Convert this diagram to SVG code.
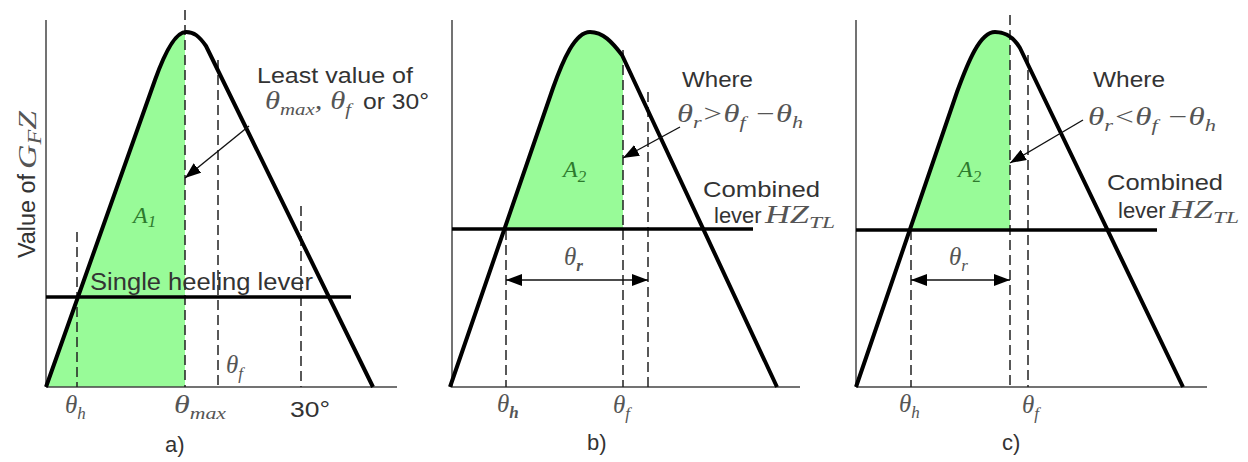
<svg xmlns="http://www.w3.org/2000/svg" width="1248" height="462" viewBox="0 0 1248 462">
<style>
.axis{stroke:#444;stroke-width:1.5;fill:none}
.curve{stroke:#000;stroke-width:4;fill:none;stroke-linejoin:round}
.lever{stroke:#000;stroke-width:3.5}
.dash{stroke:#222;stroke-width:1.5;stroke-dasharray:10,5;fill:none}
.green{fill:#98fb98;stroke:none}
.thin{stroke:#111;stroke-width:1.4;fill:none}
.sans{font-family:"Liberation Sans",Arial,sans-serif;font-size:22px;fill:#333}
.math{font-family:"Liberation Serif","Times New Roman",serif;font-style:italic;font-size:25px;fill:#555}
.sub{font-size:17px}
.area{font-family:"Liberation Serif","Times New Roman",serif;font-style:italic;font-size:24px;fill:#2d7a2d}
</style>
<defs>
<marker id="ah" viewBox="0 0 16 12" refX="16" refY="6" markerWidth="16" markerHeight="12" markerUnits="userSpaceOnUse" orient="auto-start-reverse">
<path d="M0,0 L16,6 L0,12 Z" fill="#000"/>
</marker>
<clipPath id="clipA"><rect x="46" y="0" width="139" height="387"/></clipPath>
<clipPath id="clipB"><rect x="452" y="0" width="171" height="229"/></clipPath>
<clipPath id="clipC"><rect x="856" y="0" width="154" height="230"/></clipPath>
</defs>

<!-- Panel a -->
<g id="panel-a">
<path class="green" clip-path="url(#clipA)" d="M46,387 L155,80 C165,52 176,32 186,32 C194,32 199,36 206,46 L373,387 Z"/>
<line class="axis" x1="46" y1="20" x2="46" y2="387"/>
<line class="axis" x1="46" y1="387" x2="397" y2="387"/>
<line class="dash" x1="185" y1="10" x2="185" y2="387"/>
<line class="dash" x1="218" y1="60" x2="218" y2="387"/>
<line class="dash" x1="77" y1="232" x2="77" y2="387"/>
<line class="dash" x1="301" y1="206" x2="301" y2="387"/>
<path class="curve" d="M46,387 L155,80 C165,52 176,32 186,32 C194,32 199,36 206,46 L373,387"/>
<line class="lever" x1="46" y1="297" x2="351" y2="297"/>
<text class="sans" x="90" y="290" textLength="223" lengthAdjust="spacingAndGlyphs" style="font-size:23px">Single heeling lever</text>
<text class="sans" x="257" y="83" textLength="156" lengthAdjust="spacingAndGlyphs">Least value of</text>
<text class="math" x="265" y="109" textLength="86" lengthAdjust="spacingAndGlyphs">θ<tspan class="sub" dy="6">max</tspan><tspan dy="-6">, θ</tspan><tspan class="sub" dy="6">f</tspan></text>
<text class="sans" x="363" y="109" textLength="66" lengthAdjust="spacingAndGlyphs">or 30°</text>
<text class="area" x="133" y="223">A<tspan class="sub" dy="4">1</tspan></text>
<text class="math" x="226" y="373">θ<tspan class="sub" dy="6">f</tspan></text>
<text class="math" x="65" y="413">θ<tspan class="sub" dy="6">h</tspan></text>
<text class="math" x="174" y="413" textLength="52" lengthAdjust="spacingAndGlyphs">θ<tspan class="sub" dy="6">max</tspan></text>
<text class="sans" x="290" y="417" textLength="40" lengthAdjust="spacingAndGlyphs">30°</text>
<text class="sans" x="165" y="452">a)</text>
<text class="sans" transform="translate(35,258) rotate(-90) scale(1,1.3)" textLength="84" lengthAdjust="spacingAndGlyphs" style="font-size:19px">Value of</text>
<text class="math" transform="translate(36,169) rotate(-90) scale(1,1.2)" textLength="58" lengthAdjust="spacingAndGlyphs" style="font-size:21px">G<tspan class="sub" dy="4" style="font-size:15px">F</tspan><tspan dy="-4">Z</tspan></text>
</g>

<!-- Panel b -->
<g id="panel-b">
<path class="green" clip-path="url(#clipB)" d="M450,387 L553,88 C563,60 575,32 590,32 C603,32 612,42 622,55 L777,387 Z"/>
<line class="axis" x1="452" y1="20" x2="452" y2="387"/>
<line class="axis" x1="452" y1="387" x2="800" y2="387"/>
<line class="dash" x1="623" y1="50" x2="623" y2="387"/>
<line class="dash" x1="648" y1="92" x2="648" y2="387"/>
<line class="dash" x1="506" y1="230" x2="506" y2="387"/>
<path class="curve" d="M450,387 L553,88 C563,60 575,32 590,32 C603,32 612,42 622,55 L777,387"/>
<line class="lever" x1="452" y1="229" x2="753" y2="229"/>
<text class="sans" x="682" y="87" textLength="71" lengthAdjust="spacingAndGlyphs">Where</text>
<text class="math" x="677" y="122" textLength="126" lengthAdjust="spacingAndGlyphs">θ<tspan class="sub" dy="6">r</tspan><tspan dy="-6">&gt;θ</tspan><tspan class="sub" dy="6">f</tspan><tspan dy="-6"> −θ</tspan><tspan class="sub" dy="6">h</tspan></text>
<text class="area" x="563" y="177">A<tspan class="sub" dy="5">2</tspan></text>
<text class="sans" x="703" y="197" textLength="117" lengthAdjust="spacingAndGlyphs">Combined</text>
<text class="sans" x="714" y="223">lever</text>
<text class="math" x="765" y="223" textLength="70" lengthAdjust="spacingAndGlyphs">HZ<tspan class="sub" dy="5">TL</tspan></text>
<text class="math" x="564" y="265">θ<tspan class="sub" dy="6" font-weight="bold">r</tspan></text>
<text class="math" x="497" y="412">θ<tspan class="sub" dy="6" font-weight="bold">h</tspan></text>
<text class="math" x="613" y="413">θ<tspan class="sub" dy="6">f</tspan></text>
<text class="sans" x="587" y="450">b)</text>
</g>

<!-- Panel c -->
<g id="panel-c">
<path class="green" clip-path="url(#clipC)" d="M856,387 L957,92 C968,62 980,32 995,32 C1007,32 1014,38 1020,48 L1183,387 Z"/>
<line class="axis" x1="856" y1="20" x2="856" y2="387"/>
<line class="axis" x1="856" y1="387" x2="1207" y2="387"/>
<line class="dash" x1="1010" y1="15" x2="1010" y2="387"/>
<line class="dash" x1="1028" y1="55" x2="1028" y2="387"/>
<line class="dash" x1="911" y1="230" x2="911" y2="387"/>
<path class="curve" d="M856,387 L957,92 C968,62 980,32 995,32 C1007,32 1014,38 1020,48 L1183,387"/>
<line class="lever" x1="856" y1="230" x2="1157" y2="230"/>
<text class="sans" x="1093" y="87" textLength="72" lengthAdjust="spacingAndGlyphs">Where</text>
<text class="math" x="1088" y="125" textLength="128" lengthAdjust="spacingAndGlyphs">θ<tspan class="sub" dy="6">r</tspan><tspan dy="-6">&lt;θ</tspan><tspan class="sub" dy="6">f</tspan><tspan dy="-6"> −θ</tspan><tspan class="sub" dy="6">h</tspan></text>
<text class="area" x="958" y="177">A<tspan class="sub" dy="5">2</tspan></text>
<text class="sans" x="1107" y="190" textLength="116" lengthAdjust="spacingAndGlyphs">Combined</text>
<text class="sans" x="1118" y="218">lever</text>
<text class="math" x="1169" y="218" textLength="70" lengthAdjust="spacingAndGlyphs">HZ<tspan class="sub" dy="5">TL</tspan></text>
<text class="math" x="949" y="265">θ<tspan class="sub" dy="6">r</tspan></text>
<text class="math" x="899" y="412">θ<tspan class="sub" dy="6">h</tspan></text>
<text class="math" x="1022" y="413">θ<tspan class="sub" dy="6">f</tspan></text>
<text class="sans" x="1002" y="450">c)</text>
</g>

<!-- Connectors -->
<g id="connectors">
<line class="thin" x1="249" y1="126" x2="185" y2="178" marker-end="url(#ah)"/>
<line class="thin" x1="680" y1="127" x2="623" y2="158" marker-end="url(#ah)"/>
<line class="thin" x1="1083" y1="120" x2="1010" y2="163" marker-end="url(#ah)"/>
<line class="thin" x1="506" y1="280" x2="648" y2="280" marker-start="url(#ah)" marker-end="url(#ah)"/>
<line class="thin" x1="911" y1="280" x2="1010" y2="280" marker-start="url(#ah)" marker-end="url(#ah)"/>
</g>
</svg>
